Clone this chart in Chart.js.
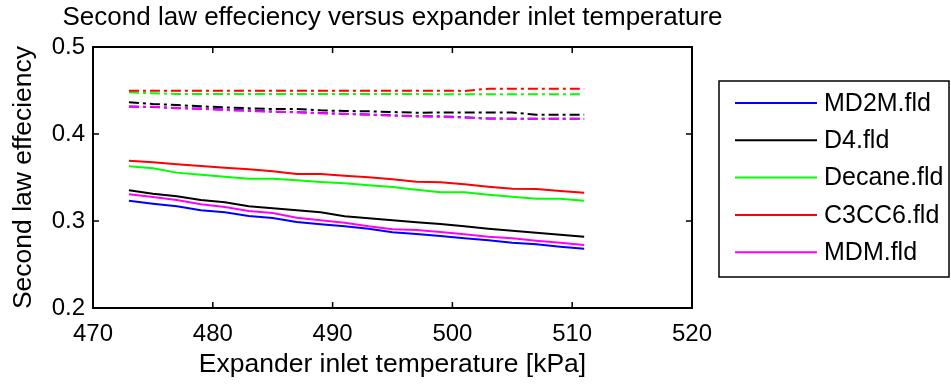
<!DOCTYPE html>
<html>
<head>
<meta charset="utf-8">
<script src="https://cdn.jsdelivr.net/npm/chart.js@4/dist/chart.umd.min.js"></script>
<style>
  html, body { margin: 0; padding: 0; background: #fff; }
  #wrap { width: 951px; height: 385px; }
</style>
</head>
<body>
<div id="wrap"><canvas id="effChart" width="951" height="385"></canvas></div>
<script>
// expander inlet temperature (x values)
const temps = [473, 475, 477, 479, 481, 483, 485, 487, 489, 491, 493, 495, 497, 499, 501, 503, 505, 507, 509, 511];

// solid lines
const md2m   = [0.3234, 0.3199, 0.3169, 0.3123, 0.3100, 0.3058, 0.3035, 0.2989, 0.2962, 0.2939, 0.2912, 0.2870, 0.2851, 0.2828, 0.2801, 0.2778, 0.2751, 0.2732, 0.2705, 0.2682];
const d4     = [0.3353, 0.3314, 0.3284, 0.3241, 0.3215, 0.3169, 0.3146, 0.3123, 0.3100, 0.3054, 0.3031, 0.3008, 0.2985, 0.2966, 0.2939, 0.2912, 0.2889, 0.2866, 0.2843, 0.2820];
const decane = [0.3628, 0.3605, 0.3556, 0.3533, 0.3510, 0.3487, 0.3487, 0.3467, 0.3448, 0.3433, 0.3410, 0.3391, 0.3360, 0.3330, 0.3330, 0.3303, 0.3280, 0.3257, 0.3257, 0.3234];
const c3cc6  = [0.3693, 0.3674, 0.3651, 0.3632, 0.3613, 0.3594, 0.3571, 0.3540, 0.3540, 0.3521, 0.3502, 0.3479, 0.3452, 0.3444, 0.3422, 0.3395, 0.3372, 0.3368, 0.3345, 0.3326];
const mdm    = [0.3307, 0.3276, 0.3241, 0.3192, 0.3161, 0.3115, 0.3092, 0.3038, 0.3008, 0.2981, 0.2939, 0.2904, 0.2897, 0.2874, 0.2847, 0.2820, 0.2801, 0.2774, 0.2751, 0.2724];

// dash-dot lines
const md2mDash   = [0.4316, 0.4310, 0.4297, 0.4292, 0.4280, 0.4270, 0.4258, 0.4251, 0.4240, 0.4232, 0.4224, 0.4215, 0.4205, 0.4203, 0.4193, 0.4178, 0.4176, 0.4176, 0.4176, 0.4176];
const d4Dash     = [0.4364, 0.4345, 0.4333, 0.4318, 0.4307, 0.4295, 0.4287, 0.4287, 0.4272, 0.4264, 0.4261, 0.4253, 0.4245, 0.4247, 0.4247, 0.4247, 0.4247, 0.4222, 0.4222, 0.4222];
const decaneDash = [0.4479, 0.4468, 0.4460, 0.4460, 0.4460, 0.4460, 0.4460, 0.4460, 0.4460, 0.4460, 0.4460, 0.4460, 0.4460, 0.4456, 0.4456, 0.4456, 0.4456, 0.4456, 0.4456, 0.4456];
const c3cc6Dash  = [0.4498, 0.4498, 0.4498, 0.4498, 0.4498, 0.4498, 0.4498, 0.4498, 0.4498, 0.4498, 0.4498, 0.4498, 0.4498, 0.4498, 0.4495, 0.4521, 0.4521, 0.4521, 0.4521, 0.4521];
const mdmDash    = [0.4314, 0.4314, 0.4299, 0.4287, 0.4276, 0.4264, 0.4257, 0.4249, 0.4238, 0.4230, 0.4222, 0.4211, 0.4203, 0.4196, 0.4188, 0.4176, 0.4176, 0.4176, 0.4176, 0.4176];

const seriesNames  = ['MD2M.fld', 'D4.fld', 'Decane.fld', 'C3CC6.fld', 'MDM.fld'];
const seriesColors = ['#0000ff', '#000000', '#00ff00', '#ff0000', '#ff00ff'];
const solidSeries  = [md2m, d4, decane, c3cc6, mdm];
const dashSeries   = [md2mDash, d4Dash, decaneDash, c3cc6Dash, mdmDash];

const xTicks = [470, 480, 490, 500, 510, 520];
const yTicks = [0.2, 0.3, 0.4, 0.5];

const chartTitle = 'Second law effeciency versus expander inlet temperature';

const FONT = '"Liberation Sans", Arial, Helvetica, sans-serif';

function toPoints(vals) {
  return vals.map((v, i) => ({ x: temps[i], y: v }));
}

const datasets = [];
solidSeries.forEach((vals, i) => {
  datasets.push({
    label: seriesNames[i],
    data: toPoints(vals),
    borderColor: seriesColors[i],
    borderWidth: 2,
    pointRadius: 0,
    tension: 0,
    inLegend: true,
    order: 10 - i
  });
});
dashSeries.forEach((vals, i) => {
  datasets.push({
    label: seriesNames[i] + ' (dash)',
    data: toPoints(vals),
    borderColor: seriesColors[i],
    borderWidth: 2,
    borderDash: [10, 4, 3, 4],
    pointRadius: 0,
    tension: 0,
    inLegend: false,
    order: 5 - i
  });
});

// box around the axes with inward ticks, matlab style, plus the title
const axesBox = {
  id: 'axesBox',
  afterDraw(chart) {
    const { ctx, chartArea: a, scales } = chart;
    const len = 6;
    ctx.save();
    ctx.strokeStyle = '#000';
    ctx.lineWidth = 2;
    ctx.strokeRect(a.left, a.top, a.right - a.left, a.bottom - a.top);
    ctx.lineWidth = 1.5;
    ctx.beginPath();
    xTicks.forEach(t => {
      const px = scales.x.getPixelForValue(t);
      ctx.moveTo(px, a.bottom); ctx.lineTo(px, a.bottom - len);
      ctx.moveTo(px, a.top); ctx.lineTo(px, a.top + len);
    });
    yTicks.forEach(t => {
      const py = scales.y.getPixelForValue(t);
      ctx.moveTo(a.left, py); ctx.lineTo(a.left + len, py);
      ctx.moveTo(a.right, py); ctx.lineTo(a.right - len, py);
    });
    ctx.stroke();

    // title centred over the axes (the built-in one gets squeezed)
    ctx.fillStyle = '#000';
    ctx.font = '26px ' + FONT;
    ctx.textAlign = 'center';
    ctx.textBaseline = 'middle';
    ctx.fillText(chartTitle, (a.left + a.right) / 2, 18);
    ctx.restore();
  }
};

// legend with a border, to the right of the axes
const boxLegend = {
  id: 'boxLegend',
  afterDraw(chart) {
    const { ctx, chartArea: a } = chart;
    const left = a.right + 27, top = 81, w = 230, h = 196;
    const rowH = 37.3, firstRow = 103;
    ctx.save();
    ctx.fillStyle = '#fff';
    ctx.fillRect(left, top, w, h);
    ctx.strokeStyle = '#000';
    ctx.lineWidth = 1.5;
    ctx.strokeRect(left, top, w, h);
    ctx.font = '25px ' + FONT;
    ctx.textBaseline = 'middle';
    ctx.textAlign = 'left';
    const items = chart.data.datasets.filter(d => d.inLegend);
    items.forEach((d, i) => {
      const y = firstRow + i * rowH;
      ctx.strokeStyle = d.borderColor;
      ctx.lineWidth = 2;
      ctx.beginPath();
      ctx.moveTo(left + 16, y);
      ctx.lineTo(left + 98, y);
      ctx.stroke();
      ctx.fillStyle = '#000';
      ctx.fillText(d.label, left + 105, y + 1);
    });
    ctx.restore();
  }
};

new Chart(document.getElementById('effChart'), {
  type: 'line',
  data: { datasets: datasets },
  options: {
    responsive: false,
    animation: false,
    layout: { padding: { left: 0, right: 259, top: 47, bottom: 0 } },
    plugins: {
      legend: { display: false },
      tooltip: { enabled: false },
      title: { display: false }
    },
    scales: {
      x: {
        type: 'linear',
        min: 470,
        max: 520,
        afterFit(scale) { scale.height = 77; },
        afterBuildTicks(scale) { scale.ticks = xTicks.map(v => ({ value: v })); },
        grid: { display: false, drawTicks: false },
        border: { display: false },
        ticks: { color: '#000', padding: 12, font: { family: FONT, size: 24 }, maxRotation: 0 },
        title: {
          display: true,
          text: 'Expander inlet temperature [kPa]',
          color: '#000',
          font: { family: FONT, size: 26.5 },
          padding: { top: 0, bottom: 4 }
        }
      },
      y: {
        min: 0.2,
        max: 0.5,
        afterFit(scale) { scale.width = 93; },
        afterBuildTicks(scale) { scale.ticks = yTicks.map(v => ({ value: v })); },
        grid: { display: false, drawTicks: false },
        border: { display: false },
        ticks: {
          color: '#000',
          padding: 8,
          font: { family: FONT, size: 24 },
          callback: v => v.toFixed(1)
        },
        title: {
          display: true,
          text: 'Second law effeciency',
          color: '#000',
          font: { family: FONT, size: 26.5 },
          padding: { top: 8, bottom: 0 }
        }
      }
    }
  },
  plugins: [axesBox, boxLegend]
});
</script>
</body>
</html>
